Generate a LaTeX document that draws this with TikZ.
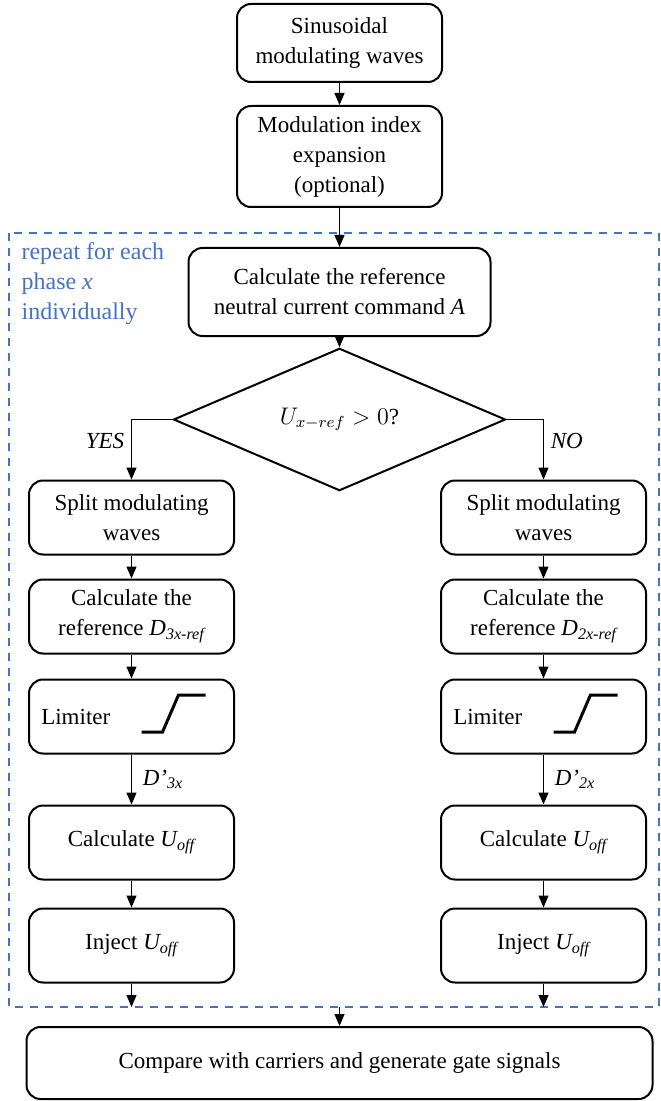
\documentclass[tikz,border=0pt]{standalone}
\usepackage{fontspec}
\setmainfont{Liberation Serif}
\usetikzlibrary{positioning, arrows.meta, shapes.geometric}
\definecolor{loopblue}{RGB}{68,114,196}

\begin{document}
\begin{tikzpicture}[->, >={Triangle[length=6pt, width=5pt]}, node distance=50pt, semithick,
    font=\fontsize{11.5}{15}\selectfont,
    block/.style={draw, rounded corners=7pt, line width=1pt, align=center, minimum width=102.5pt, minimum height=37pt},
    wide/.style={block, minimum width=151pt, minimum height=44pt},
    decision/.style={draw, diamond, line width=1pt, minimum width=166pt, minimum height=57.5pt, inner sep=0pt},
    repeatbox/.style={-, draw=loopblue, line width=1pt, dash pattern=on 4pt off 3.5pt}]
    \useasboundingbox (0,0) rectangle (330pt,-550.5pt);

    \node[block, minimum height=39pt] (sine) at (169.75pt,-21.5pt) {Sinusoidal\\modulating waves};
    \node[block, minimum height=50.5pt] (expand) [node distance=56.75pt, below of=sine] {Modulation index\\expansion\\(optional)};
    \node[wide] (neutral) [node distance=67.75pt, below of=expand] {Calculate the reference\\neutral current command \textit{A}};
    \node[decision] (sign) [node distance=63.75pt, below of=neutral] {$U_{x-ref} > 0$?};

    % phase loop frame
    \draw[repeatbox] (4.5pt,-116.5pt) rectangle (329.5pt,-503.5pt);
    \coordinate (dashbot) at (0,-503.5pt);
    \node[anchor=north west, inner sep=0pt, align=left, text=loopblue, font=\fontsize{12}{15}\selectfont] (note) at (10.5pt,-121pt) {repeat for each\\phase \textit{x}\\individually};

    % YES branch
    \node[block] (splitL) [node distance=49pt, below of=sign, xshift=-104pt] {Split modulating\\waves};
    \node[block] (calcDL) [node distance=49.5pt, below of=splitL] {Calculate the\\reference \textit{D\textsubscript{3x-ref}}};
    \node[block] (limL) [below of=calcDL] {};
    \node[anchor=west] (limLtext) at ([xshift=3pt]limL.west) {Limiter};
    \node[block] (calcUL) [node distance=63pt, below of=limL] {Calculate \textit{U\textsubscript{off}}};
    \node[block] (injL) [node distance=51.5pt, below of=calcUL] {Inject \textit{U\textsubscript{off}}};

    % NO branch
    \node[block] (splitR) [node distance=49pt, below of=sign, xshift=102pt] {Split modulating\\waves};
    \node[block] (calcDR) [node distance=49.5pt, below of=splitR] {Calculate the\\reference \textit{D\textsubscript{2x-ref}}};
    \node[block] (limR) [below of=calcDR] {};
    \node[anchor=west] (limRtext) at ([xshift=3pt]limR.west) {Limiter};
    \node[block] (calcUR) [node distance=63pt, below of=limR] {Calculate \textit{U\textsubscript{off}}};
    \node[block] (injR) [node distance=51.5pt, below of=calcUR] {Inject \textit{U\textsubscript{off}}};

    \node[block, minimum width=313pt, minimum height=36pt] (gate) [node distance=321.75pt, below of=sign] {Compare with carriers and generate gate signals};

    % limiter curves
    \draw[-, line width=1.5pt] ([xshift=5pt, yshift=-7.75pt]limL.center) -- ++(10.5pt,0) -- ++(8pt,18.5pt) -- ++(13.5pt,0);
    \draw[-, line width=1.5pt] ([xshift=5pt, yshift=-7.75pt]limR.center) -- ++(10.5pt,0) -- ++(8pt,18.5pt) -- ++(13.5pt,0);

    \path (sine) edge (expand)
          (expand) edge (neutral)
          (neutral) edge (sign)
          (splitL) edge (calcDL)
          (calcDL) edge (limL)
          (limL) edge node[right, xshift=2pt] {\textit{D’\textsubscript{3x}}} (calcUL)
          (calcUL) edge (injL)
          (injL) edge (injL |- dashbot)
          (splitR) edge (calcDR)
          (calcDR) edge (limR)
          (limR) edge node[right, xshift=2pt] {\textit{D’\textsubscript{2x}}} (calcUR)
          (calcUR) edge (injR)
          (injR) edge (injR |- dashbot)
          (dashbot -| sign) edge (gate);
    \draw (sign.west) -| node[pos=0.68, left] {\textit{YES}} (splitL.north);
    \draw (sign.east) -| node[pos=0.68, right] {\textit{NO}} (splitR.north);
\end{tikzpicture}
\end{document}
